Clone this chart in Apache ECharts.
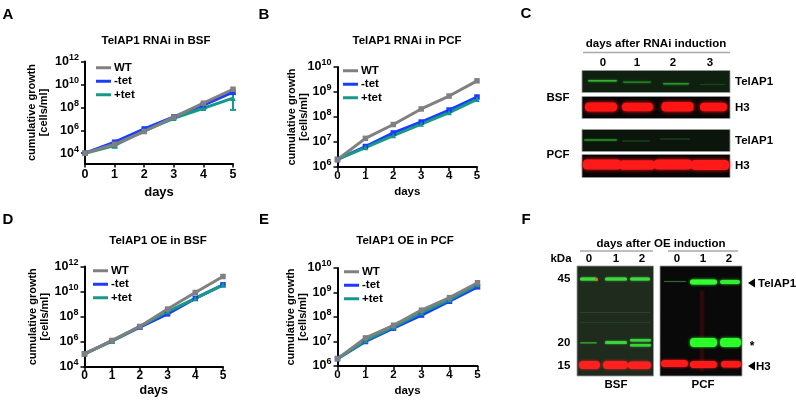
<!DOCTYPE html>
<html>
<head>
<meta charset="utf-8">
<script src="https://cdn.jsdelivr.net/npm/echarts@6/dist/echarts.min.js"></script>
<style>html,body{margin:0;padding:0;background:#fff}#c{width:796px;height:400px}</style>
</head>
<body>
<div id="c"></div>
<script>
// ---------------- DATA (cells/ml) ----------------
const days = [0, 1, 2, 3, 4, 5];
const seriesNames = ['WT', '-tet', '+tet'];

// A: TelAP1 RNAi in BSF
const A_WT    = [1.0e4, 6.0e4, 7.8e5, 1.4e7, 2.3e8, 3.8e9];
const A_minus = [1.0e4, 9.1e4, 1.3e6, 1.5e7, 1.6e8, 2.1e9];
const A_plus  = [1.0e4, 4.7e4, 8.9e5, 1.1e7, 8.3e7, 6.3e8];
const A_plusErrDays = [1, 4, 5];
const A_plusErrLow  = [3.0e4, 7.0e7, 6.0e7];
const A_plusErrHigh = [5.5e4, 1.0e8, 1.4e9];

// B: TelAP1 RNAi in PCF
const B_WT    = [2.0e6, 1.4e7, 5.0e7, 2.1e8, 6.9e8, 2.8e9];
const B_minus = [2.0e6, 6.6e6, 2.3e7, 6.3e7, 1.9e8, 6.3e8];
const B_plus  = [2.0e6, 6.0e6, 1.8e7, 5.2e7, 1.5e8, 5.1e8];

// D: TelAP1 OE in BSF
const D_WT    = [1.1e5, 1.3e6, 1.7e7, 4.1e8, 8.5e9, 1.6e11];
const D_minus = [1.1e5, 1.2e6, 1.5e7, 1.7e8, 2.9e9, 3.5e10];
const D_plus  = [1.1e5, 1.2e6, 1.7e7, 2.6e8, 2.9e9, 3.5e10];

// E: TelAP1 OE in PCF
const E_WT    = [2.0e6, 1.4e7, 4.6e7, 1.9e8, 6.2e8, 2.5e9];
const E_minus = [2.0e6, 1.0e7, 3.5e7, 1.2e8, 4.4e8, 1.7e9];
const E_plus  = [2.0e6, 1.1e7, 3.9e7, 1.5e8, 5.1e8, 2.1e9];

// y tick exponents (labels 10^n)
const A_ticks = [4, 6, 8, 10, 12];
const B_ticks = [6, 7, 8, 9, 10];
const D_ticks = [4, 6, 8, 10, 12];
const E_ticks = [6, 7, 8, 9, 10];

const titles = ['TelAP1 RNAi in BSF', 'TelAP1 RNAi in PCF', 'TelAP1 OE in BSF', 'TelAP1 OE in PCF'];
const yName = 'cumulative growth\n[cells/ml]';
const xName = 'days';

// ---------------- STYLE ----------------
const FONT = "'Liberation Sans', Arial, sans-serif";
const GRAY = '#808080', BLUE = '#1a3cff', TEAL = '#17998a';
const log = v => Math.log10(v);
const pts = arr => days.map((d, i) => [d, log(arr[i])]);

const panels = [
  {grid: {left: 85, top: 61.5, width: 148, height: 102}, min: 3.1, max: 12, ticks: A_ticks,
   data: [A_WT, A_minus, A_plus], yGap: 35, xGap: 22, xMargin: 5, xFont: 12.5, dFont: 13, legend: {left: 96, top: 61}},
  {grid: {left: 337.5, top: 67, width: 139.5, height: 100}, min: 6, max: 10, ticks: B_ticks,
   data: [B_WT, B_minus, B_plus], yGap: 28, xGap: 19, xMargin: 3, xFont: 11.5, dFont: 11.5, legend: {left: 343, top: 64}},
  {grid: {left: 84.5, top: 266.5, width: 138.5, height: 100.5}, min: 4, max: 12, ticks: D_ticks,
   data: [D_WT, D_minus, D_plus], yGap: 34, xGap: 17, xMargin: 3, xFont: 12, dFont: 12.5, legend: {left: 93, top: 264}},
  {grid: {left: 337.5, top: 268, width: 140, height: 98}, min: 6, max: 10, ticks: E_ticks,
   data: [E_WT, E_minus, E_plus], yGap: 29, xGap: 19, xMargin: 3, xFont: 11.5, dFont: 11.5, legend: {left: 344, top: 265}}
];
const titlePos = [[156, 35], [407, 35], [158, 235], [405, 235]];

const grids = [], xAxes = [], yAxes = [], series = [], legends = [], titleComps = [];
panels.forEach((p, gi) => {
  grids.push(Object.assign({containLabel: false}, p.grid));
  xAxes.push({
    type: 'value', gridIndex: gi, min: 0, max: 5, interval: 1,
    axisLine: {show: true, onZero: false, lineStyle: {color: '#000', width: 2}},
    axisTick: {show: true, length: 4, lineStyle: {color: '#000', width: 1.5}},
    axisLabel: {margin: p.xMargin, color: '#000', fontSize: p.xFont, fontWeight: 'bold', fontFamily: FONT},
    splitLine: {show: false},
    name: xName, nameLocation: 'middle', nameGap: p.xGap, nameMoveOverlap: false,
    nameTextStyle: {color: '#000', fontSize: p.dFont, fontWeight: 'bold', fontFamily: FONT}
  });
  yAxes.push({
    type: 'value', gridIndex: gi, min: p.min, max: p.max,
    axisLine: {show: true, onZero: false, lineStyle: {color: '#000', width: 2}},
    axisTick: {show: true, length: 4, lineStyle: {color: '#000', width: 1.5}, customValues: p.ticks},
    axisLabel: {
      customValues: p.ticks, margin: 6,
      formatter: v => '{b|10}{s|' + Math.round(v) + '}',
      rich: {
        b: {fontSize: 12.5, fontWeight: 'bold', fontFamily: FONT, color: '#000', lineHeight: 17},
        s: {fontSize: 9, fontWeight: 'bold', fontFamily: FONT, color: '#000', lineHeight: 10, verticalAlign: 'top'}
      }
    },
    splitLine: {show: false},
    name: yName, nameLocation: 'middle', nameRotate: 90, nameGap: p.yGap, nameMoveOverlap: false,
    nameTextStyle: {color: '#000', fontSize: 11, fontWeight: 'bold', fontFamily: FONT, lineHeight: 12}
  });
  const [wt, mi, pl] = p.data;
  const mk = (name, arr, color, sym) => ({
    type: 'line', name, xAxisIndex: gi, yAxisIndex: gi, data: pts(arr),
    lineStyle: {color, width: 3}, itemStyle: {color}, symbol: sym, symbolSize: 5.5,
    showSymbol: true, clip: false, animation: false
  });
  series.push(mk('-tet', mi, BLUE, 'rect'));
  series.push(mk('+tet', pl, TEAL, 'triangle'));
  series.push(mk('WT', wt, GRAY, 'rect'));
  legends.push({
    left: p.legend.left, top: p.legend.top, orient: 'vertical', padding: 0, itemGap: 0,
    data: seriesNames, icon: 'rect', itemWidth: 15, itemHeight: 3, selectedMode: false,
    textStyle: {color: '#000', fontSize: 11.5, fontWeight: 'bold', fontFamily: FONT, lineHeight: 13.5, padding: [0, 0, 0, -2]}
  });
  titleComps.push({
    text: titles[gi], left: titlePos[gi][0], top: titlePos[gi][1], textAlign: 'center', padding: 0,
    textStyle: {color: '#000', fontSize: 11.5, fontWeight: 'bold', fontFamily: FONT}
  });
});

// error bars for +tet in panel A
series.push({
  type: 'custom', name: 'err', xAxisIndex: 0, yAxisIndex: 0, clip: false, z: 3,
  data: A_plusErrDays.map((d, i) => [d, log(A_plusErrLow[i]), log(A_plusErrHigh[i])]),
  renderItem: (params, api) => {
    const lo = api.coord([api.value(0), api.value(1)]);
    const hi = api.coord([api.value(0), api.value(2)]);
    const st = {stroke: TEAL, lineWidth: 2};
    return {type: 'group', children: [
      {type: 'line', shape: {x1: lo[0], y1: lo[1], x2: hi[0], y2: hi[1]}, style: st},
      {type: 'line', shape: {x1: lo[0] - 3, y1: lo[1], x2: lo[0] + 3, y2: lo[1]}, style: st},
      {type: 'line', shape: {x1: hi[0] - 3, y1: hi[1], x2: hi[0] + 3, y2: hi[1]}, style: st}
    ]};
  }
});

// ---------------- BLOT PANELS (drawn shapes) ----------------
const G = [];
const txt = (x, y, text, size, align) => G.push({type: 'text', x, y, silent: true, style: {
  text, fill: '#000', fontSize: size || 11.5, fontWeight: 'bold', fontFamily: FONT,
  textAlign: align || 'center', textVerticalAlign: 'middle'}});
const box = (x, y, w, h, fill) => G.push({type: 'rect', silent: true,
  shape: {x, y, width: w, height: h}, style: {fill, stroke: '#9a9a9a', lineWidth: 0.8}});
const band = (x, y, w, h, color, blur, op) => G.push({type: 'rect', silent: true,
  shape: {x, y, width: w, height: h, r: Math.min(h / 2, 4)},
  style: {fill: color, shadowBlur: blur == null ? 3 : blur, shadowColor: color, opacity: op == null ? 1 : op}});
const hline = (x1, x2, y, color, w) => G.push({type: 'line', silent: true,
  shape: {x1, y1: y, x2, y2: y}, style: {stroke: color, lineWidth: w}});
const tri = (x, y) => G.push({type: 'polygon', silent: true,
  shape: {points: [[x, y], [x + 7, y - 4.5], [x + 7, y + 4.5]]}, style: {fill: '#000'}});

// panel letters
[['A', 8, 15], ['B', 264, 15], ['C', 526, 14], ['D', 8, 220], ['E', 264, 220], ['F', 526, 220]]
  .forEach(l => txt(l[1], l[2], l[0], 15));

// Panel C
txt(656, 43.5, 'days after RNAi induction', 11.5);
hline(583, 730, 52.5, '#a8a8a8', 1.5);
[[603, '0'], [637, '1'], [673, '2'], [710, '3']].forEach(l => txt(l[0], 62.5, l[1], 11.5));
box(582, 70.5, 148, 22, '#102010');
box(582, 96.5, 148, 22, '#060606');
box(582, 129.5, 148, 22, '#0b150b');
box(582, 154.5, 148, 23, '#080404');
band(588, 80, 29, 1.5, '#2fb52f', 2);
band(623, 81.5, 28, 1.2, '#238a23', 2);
band(663, 83, 26, 1.4, '#269526', 2);
band(700, 84, 25, 1, '#1a441a', 1);
band(585, 102.5, 32, 9, '#ff1414', 4);
band(622, 102.8, 31, 8.5, '#ff1414', 4);
band(661.5, 102, 32, 9.5, '#ff1414', 4);
band(700, 102.8, 27, 8.5, '#ff1414', 4);
band(584, 139.3, 33, 1.4, '#238a23', 2);
band(622, 140.5, 28, 1, '#1a441a', 1);
band(660, 138.5, 30, 1, '#1a401a', 1);
band(583, 159.5, 38, 10, '#ff1a1a', 4);
band(619, 160.2, 36, 9.5, '#ff1a1a', 4);
band(654, 159.5, 38, 10, '#ff1a1a', 4);
band(691, 160, 38, 10, '#ff1a1a', 4);
txt(735, 82, 'TelAP1', 11.5, 'left');
txt(735, 107.5, 'H3', 11.5, 'left');
txt(735, 140.5, 'TelAP1', 11.5, 'left');
txt(735, 165.5, 'H3', 11.5, 'left');
txt(558, 98, 'BSF', 11.5);
txt(558, 155, 'PCF', 11.5);

// Panel F
txt(661, 243.5, 'days after OE induction', 11.5);
hline(580, 653, 251, '#a8a8a8', 1.5);
hline(668, 738, 251, '#a8a8a8', 1.5);
txt(561, 259, 'kDa', 11.5);
[[589, '0'], [616, '1'], [642, '2'], [677, '0'], [703, '1'], [729, '2']].forEach(l => txt(l[0], 259, l[1], 11.5));
box(577, 266, 76.5, 110, '#1e2b1d');
box(660, 266, 82, 110, '#090909');
// BSF lanes
band(580, 277.5, 17, 3, '#40da40', 2);
band(605, 277.5, 22, 3, '#40da40', 2);
band(630, 277.5, 20, 3, '#40da40', 2);
band(595, 278, 3, 3, '#e07020', 1);
band(580, 312, 70, 0.8, '#2e4e2e', 0);
band(580, 322, 70, 0.8, '#2a462a', 0);
band(580, 342, 17, 1.4, '#2f8f2f', 1);
band(605, 341, 22, 3, '#3cd23c', 2);
band(630, 339, 21, 2.5, '#3cd23c', 2);
band(630, 344, 21, 2.5, '#3cd23c', 2);
band(579, 361, 21, 8, '#ff2020', 3);
band(603, 361, 25, 8, '#ff2020', 3);
band(628, 361.5, 23, 7.5, '#ff2020', 3);
// PCF lanes
band(700, 290, 4, 82, '#3a0c0c', 3, 0.5);
band(664, 281, 22, 1, '#2a6a2a', 1);
band(690, 279.5, 27, 5, '#33ff33', 3);
band(720, 280, 20, 4, '#33ee33', 3);
band(690, 338, 27, 9, '#2aff2a', 3);
band(720, 338, 21, 9, '#2aff2a', 3);
band(661, 360, 27, 7, '#ff1a1a', 3);
band(690, 361, 27, 7, '#ff1a1a', 3);
band(721, 361, 20, 6.5, '#ff1a1a', 3);
txt(564, 279, '45', 11.5);
txt(564, 343, '20', 11.5);
txt(564, 366, '15', 11.5);
tri(748, 283); txt(758, 283.5, 'TelAP1', 11.5, 'left');
txt(752, 347, '*', 12);
tri(748, 366); txt(756, 366.5, 'H3', 11.5, 'left');
txt(616, 385, 'BSF', 11.5);
txt(703, 385, 'PCF', 11.5);

// ---------------- CHART ----------------
const chart = echarts.init(document.getElementById('c'), null, {renderer: 'canvas'});
chart.setOption({
  animation: false,
  backgroundColor: '#fff',
  title: titleComps,
  legend: legends,
  grid: grids,
  xAxis: xAxes,
  yAxis: yAxes,
  series: series,
  graphic: G
});
</script>
</body>
</html>
